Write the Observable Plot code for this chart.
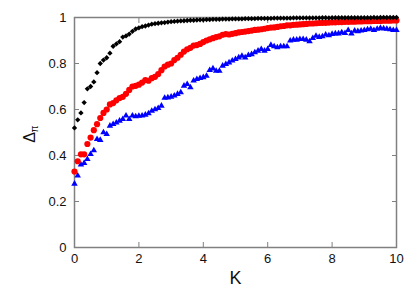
<!DOCTYPE html>
<html><head><meta charset="utf-8">
<script src="https://cdn.jsdelivr.net/npm/d3@7"></script>
<script src="https://cdn.jsdelivr.net/npm/@observablehq/plot@0.6"></script>
<style>html,body{margin:0;padding:0;background:#fff}svg{display:block}</style>
</head><body><div id="chart"></div>
<script>
const K = [
  0,0.1,0.2,0.3,0.4,0.5,0.6,0.7,0.8,0.9,1.0,
  1.1,1.2,1.3,1.4,1.5,1.6,1.7,1.8,1.9,2.0,
  2.1,2.2,2.3,2.4,2.5,2.6,2.7,2.8,2.9,3.0,
  3.1,3.2,3.3,3.4,3.5,3.6,3.7,3.8,3.9,4.0,
  4.1,4.2,4.3,4.4,4.5,4.6,4.7,4.8,4.9,5.0,
  5.1,5.2,5.3,5.4,5.5,5.6,5.7,5.8,5.9,6.0,
  6.1,6.2,6.3,6.4,6.5,6.6,6.7,6.8,6.9,7.0,
  7.1,7.2,7.3,7.4,7.5,7.6,7.7,7.8,7.9,8.0,
  8.1,8.2,8.3,8.4,8.5,8.6,8.7,8.8,8.9,9.0,
  9.1,9.2,9.3,9.4,9.5,9.6,9.7,9.8,9.9,10.0
];
const deltaBlack = [
  0.52,0.555,0.585,0.63,0.69,0.70,0.72,0.76,0.80,0.815,0.825,
  0.845,0.875,0.885,0.895,0.915,0.92,0.928,0.94,0.95,0.955,
  0.96,0.963,0.967,0.971,0.973,0.975,0.977,0.978,0.98,0.982,
  0.983,0.984,0.985,0.986,0.987,0.988,0.988,0.989,0.99,0.99,
  0.991,0.991,0.992,0.992,0.992,0.993,0.993,0.993,0.994,0.994,
  0.994,0.994,0.995,0.995,0.995,0.995,0.996,0.996,0.996,0.996,
  0.996,0.997,0.997,0.997,0.997,0.997,0.997,0.998,0.998,0.998,
  0.998,0.998,0.998,0.998,0.998,0.998,0.999,0.999,0.998,0.999,
  0.999,0.999,0.999,0.999,0.999,0.999,0.999,0.999,0.999,0.999,
  0.999,0.999,1.0,0.999,1.0,1.0,1.0,1.0,1.0,1.0
];
const deltaRed = [
  0.33,0.375,0.405,0.405,0.45,0.478,0.51,0.536,0.563,0.585,0.60,
  0.622,0.628,0.64,0.65,0.655,0.668,0.685,0.70,0.703,0.708,
  0.717,0.728,0.725,0.736,0.742,0.754,0.771,0.787,0.795,0.80,
  0.815,0.825,0.838,0.852,0.862,0.868,0.878,0.88,0.885,0.893,
  0.90,0.905,0.91,0.915,0.918,0.925,0.928,0.926,0.929,0.932,
  0.935,0.937,0.939,0.941,0.943,0.946,0.947,0.949,0.951,0.954,
  0.956,0.957,0.959,0.962,0.963,0.966,0.966,0.968,0.969,0.97,
  0.971,0.972,0.974,0.974,0.975,0.976,0.977,0.977,0.978,0.979,
  0.979,0.98,0.98,0.981,0.981,0.982,0.982,0.983,0.983,0.984,
  0.984,0.984,0.985,0.985,0.985,0.986,0.986,0.986,0.987,0.987
];
const deltaBlue = [
  0.277,0.312,0.36,0.367,0.384,0.406,0.422,0.471,0.467,0.50,0.493,
  0.529,0.536,0.543,0.551,0.558,0.573,0.558,0.573,0.57,0.572,
  0.573,0.577,0.583,0.594,0.60,0.606,0.616,0.65,0.652,0.655,
  0.66,0.667,0.674,0.703,0.71,0.696,0.725,0.732,0.736,0.74,
  0.746,0.771,0.778,0.768,0.768,0.79,0.797,0.804,0.812,0.819,
  0.826,0.833,0.826,0.836,0.84,0.848,0.855,0.862,0.855,0.862,
  0.88,0.874,0.87,0.874,0.874,0.874,0.899,0.903,0.903,0.906,
  0.906,0.903,0.896,0.91,0.92,0.915,0.918,0.925,0.922,0.928,
  0.93,0.93,0.935,0.932,0.945,0.93,0.942,0.94,0.943,0.945,
  0.948,0.95,0.945,0.95,0.954,0.952,0.95,0.948,0.945,0.945
];
const xTicks = [0,2,4,6,8,10];
const yTicks = [0,0.2,0.4,0.6,0.8,1];
const xLabel = "K";
const yLabel = "Δ";
const ySub = "π";

const rows = (vals) => K.map((k, i) => ({k, v: vals[i]}));
const axisColor = "#808080";
const font = "'Liberation Sans', Arial, Helvetica, sans-serif";

const chart = Plot.plot({
  width: 415,
  height: 290,
  marginLeft: 74,
  marginRight: 19,
  marginTop: 17,
  marginBottom: 43,
  style: {fontFamily: font, background: "#fff"},
  x: {domain: [0, 10]},
  y: {domain: [0, 1]},
  marks: [
    Plot.frame({stroke: axisColor, strokeWidth: 1.5}),
    Plot.axisX(xTicks, {anchor: "bottom", tickSize: 0, tickPadding: 6, fontSize: 13, fill: "#111", label: null, tickFormat: d => String(d)}),
    Plot.axisX(xTicks, {anchor: "bottom", tickSize: -5, stroke: axisColor, tickFormat: () => "", label: null}),
    Plot.axisX(xTicks, {anchor: "top", tickSize: -5, stroke: axisColor, tickFormat: () => "", label: null}),
    Plot.axisY(yTicks, {anchor: "left", tickSize: 0, tickPadding: 8, fontSize: 13, fill: "#111", label: null, tickFormat: d => String(d)}),
    Plot.axisY(yTicks, {anchor: "left", tickSize: -5, stroke: axisColor, tickFormat: () => "", label: null}),
    Plot.axisY(yTicks, {anchor: "right", tickSize: -5, stroke: axisColor, tickFormat: () => "", label: null}),
    Plot.dot(rows(deltaBlue), {x: "k", y: "v", symbol: "triangle", r: 2.4, fill: "#0000ff", stroke: null}),
    Plot.dot(rows(deltaRed), {x: "k", y: "v", symbol: "circle", r: 3.1, fill: "#ff0000", stroke: null}),
    Plot.dot(rows(deltaBlack), {x: "k", y: "v", symbol: "diamond2", r: 2.4, fill: "#000", stroke: null}),
    Plot.text([xLabel], {frameAnchor: "bottom", dy: 31, fontSize: 18, fill: "#111", textAnchor: "middle", lineAnchor: "middle"}),
    Plot.text([yLabel], {frameAnchor: "left", dx: -44.5, dy: 5, rotate: -90, fontSize: 16, fill: "#111", textAnchor: "middle", lineAnchor: "middle"}),
    Plot.text([ySub], {frameAnchor: "left", dx: -39.3, dy: -3.5, rotate: -90, fontSize: 10, fill: "#111", textAnchor: "middle", lineAnchor: "middle"})
  ]
});
document.getElementById("chart").appendChild(chart);
</script>
</body></html>
